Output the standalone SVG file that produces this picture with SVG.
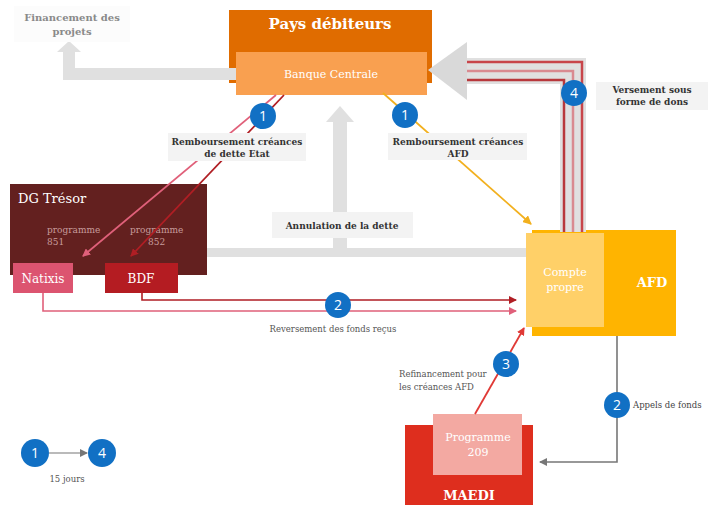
<svg xmlns="http://www.w3.org/2000/svg" width="712" height="505" viewBox="0 0 712 505">
<defs>
<style>
.lbl{font-family:"DejaVu Serif","Liberation Serif",serif;font-size:9px;font-weight:bold;fill:#333;text-anchor:middle}
.sm{font-family:"DejaVu Serif","Liberation Serif",serif;font-size:8.5px;fill:#555}
.wt{font-family:"DejaVu Serif","Liberation Serif",serif;fill:#fff;text-anchor:middle}
.prog{font-family:"DejaVu Serif","Liberation Serif",serif;font-size:9px;fill:#C79C9C}
.num{font-family:"Open Sans","DejaVu Sans",sans-serif;font-size:14px;fill:#fff;text-anchor:middle}
.badge{fill:#1170C4}
.lblbg{fill:#F3F3F3}
.band{fill:#E0E0E0}
</style>
<marker id="aPink" markerWidth="8" markerHeight="8" refX="7" refY="4" orient="auto" markerUnits="userSpaceOnUse"><path d="M0,0 L8,4 L0,8 z" fill="#E0607A"/></marker>
<marker id="aDark" markerWidth="8" markerHeight="8" refX="7" refY="4" orient="auto" markerUnits="userSpaceOnUse"><path d="M0,0 L8,4 L0,8 z" fill="#B01E24"/></marker>
<marker id="aGold" markerWidth="9" markerHeight="9" refX="8" refY="4.5" orient="auto" markerUnits="userSpaceOnUse"><path d="M0,0 L9,4.5 L0,9 z" fill="#F2B01E"/></marker>
<marker id="aRed" markerWidth="8" markerHeight="8" refX="7" refY="4" orient="auto" markerUnits="userSpaceOnUse"><path d="M0,0 L8,4 L0,8 z" fill="#E03A36"/></marker>
<marker id="aGray" markerWidth="8" markerHeight="8" refX="7" refY="4" orient="auto" markerUnits="userSpaceOnUse"><path d="M0,0 L8,4 L0,8 z" fill="#777"/></marker>
</defs>
<rect width="712" height="505" fill="#fff"/>

<g id="pays-debiteurs">
  <rect x="229" y="10" width="203" height="73" fill="#E06C00"/>
  <text x="330" y="29" class="wt" font-size="15" font-weight="bold">Pays débiteurs</text>
</g>
<g id="banque-centrale">
  <rect x="236" y="52" width="191" height="43" fill="#F9A050"/>
  <text x="331" y="78" class="wt" font-size="11">Banque Centrale</text>
</g>

<g id="dg-tresor">
  <rect x="10" y="184" width="197" height="91" fill="#63201F"/>
  <text x="18" y="203" font-family="DejaVu Serif, Liberation Serif, serif" font-size="13" fill="#fff">DG Trésor</text>
  <text x="47" y="233" class="prog">programme</text>
  <text x="47" y="245" class="prog">851</text>
  <text x="130" y="233" class="prog">programme</text>
  <text x="148" y="245" class="prog">852</text>
</g>
<g id="natixis">
  <rect x="13" y="263" width="60" height="30" fill="#DC5470"/>
  <text x="43" y="283" class="wt" font-size="12">Natixis</text>
</g>
<g id="bdf">
  <rect x="105" y="263" width="73" height="30" fill="#B41C22"/>
  <text x="141" y="283" class="wt" font-size="12">BDF</text>
</g>

<g id="afd">
  <rect x="532" y="230" width="144" height="106" fill="#FFB400"/>
  <text x="652" y="287" class="wt" font-size="13" font-weight="bold">AFD</text>
</g>
<g id="compte-propre">
  <rect x="526" y="233" width="78" height="94" fill="#FFD068"/>
  <text x="565" y="276" class="wt" font-size="11">Compte</text>
  <text x="565" y="291" class="wt" font-size="11">propre</text>
</g>

<g id="maedi">
  <rect x="405" y="425" width="128" height="80" fill="#DE2E1E"/>
  <text x="469" y="500" class="wt" font-size="13" font-weight="bold">MAEDI</text>
</g>
<g id="programme-209">
  <rect x="433" y="414" width="89" height="61" fill="#F3A9A2"/>
  <text x="478" y="441" class="wt" font-size="11">Programme</text>
  <text x="478" y="456" class="wt" font-size="11">209</text>
</g>

<g id="connectors">
  <path d="M236,68 H75 V52 H81 L69,41 L57,52 H63 V80 H236 z" class="band"/>
  <rect x="207" y="248" width="319" height="9" class="band"/>
  <path d="M333,248 V122 H326 L340,106 L354,122 H347 V248 z" class="band"/>
  <path d="M467,58 H586 V232 H560 V84 H467 z" class="band"/>
  <path d="M428,70 L467,42 L467,100 z" fill="#D9D9D9"/>
  <path d="M467,62 H582 V232" fill="none" stroke="#C8454A" stroke-width="2.5"/>
  <path d="M467,71 H573 V232" fill="none" stroke="#D98A90" stroke-width="2.5"/>
  <path d="M467,80 H564 V232" fill="none" stroke="#B8383C" stroke-width="2.5"/>
  <line x1="276" y1="95" x2="83" y2="256" stroke="#E0607A" stroke-width="1.8" marker-end="url(#aPink)"/>
  <line x1="284" y1="95" x2="131" y2="256" stroke="#B01E24" stroke-width="1.8" marker-end="url(#aDark)"/>
  <line x1="383" y1="93" x2="531" y2="224" stroke="#F2B01E" stroke-width="1.8" marker-end="url(#aGold)"/>
  <path d="M142,293 V300 H516" fill="none" stroke="#B01E24" stroke-width="1.6" marker-end="url(#aDark)"/>
  <path d="M43,293 V311 H516" fill="none" stroke="#E0607A" stroke-width="1.6" marker-end="url(#aPink)"/>
  <line x1="475" y1="414" x2="524" y2="328" stroke="#E03A36" stroke-width="1.8" marker-end="url(#aRed)"/>
  <path d="M617,336 V462 H540" fill="none" stroke="#777" stroke-width="1.6" marker-end="url(#aGray)"/>
  <line x1="49" y1="453" x2="87" y2="453" stroke="#777" stroke-width="1.2" marker-end="url(#aGray)"/>
</g>

<g id="labels">
  <rect x="14" y="6" width="116" height="36" fill="#FCFCFC"/>
  <text x="72" y="21" class="lbl" style="fill:#8a8a8a;font-size:10px">Financement des</text>
  <text x="72" y="35" class="lbl" style="fill:#8a8a8a;font-size:10px">projets</text>
  <rect x="168" y="133" width="138" height="28" class="lblbg"/>
  <text x="237" y="145" class="lbl">Remboursement créances</text>
  <text x="237" y="157" class="lbl">de dette Etat</text>
  <rect x="388" y="133" width="139" height="27" class="lblbg"/>
  <text x="458" y="145" class="lbl">Remboursement créances</text>
  <text x="458" y="157" class="lbl">AFD</text>
  <rect x="272" y="212" width="141" height="26" class="lblbg"/>
  <text x="342" y="229" class="lbl">Annulation de la dette</text>
  <rect x="596" y="82" width="112" height="28" class="lblbg"/>
  <text x="652" y="93" class="lbl">Versement sous</text>
  <text x="652" y="105" class="lbl">forme de dons</text>
  <text x="333" y="332" class="sm" text-anchor="middle">Reversement des fonds reçus</text>
  <text x="399" y="377" class="sm">Refinancement pour</text>
  <text x="399" y="390" class="sm">les créances AFD</text>
  <text x="633" y="408" class="sm" style="fill:#444">Appels de  fonds</text>
  <text x="67" y="482" class="sm" text-anchor="middle">15 jours</text>
</g>

<g id="badges">
  <circle cx="263" cy="116" r="13" class="badge"/><text x="263" y="121" class="num">1</text>
  <circle cx="405" cy="115" r="13" class="badge"/><text x="405" y="120" class="num">1</text>
  <circle cx="574" cy="93" r="13" class="badge"/><text x="574" y="98" class="num">4</text>
  <circle cx="338" cy="305" r="13" class="badge"/><text x="338" y="310" class="num">2</text>
  <circle cx="506" cy="364" r="13" class="badge"/><text x="506" y="369" class="num">3</text>
  <circle cx="617" cy="405" r="13" class="badge"/><text x="617" y="410" class="num">2</text>
  <circle cx="35" cy="453" r="14" class="badge"/><text x="35" y="458" class="num">1</text>
  <circle cx="102" cy="453" r="14" class="badge"/><text x="102" y="458" class="num">4</text>
</g>
</svg>
